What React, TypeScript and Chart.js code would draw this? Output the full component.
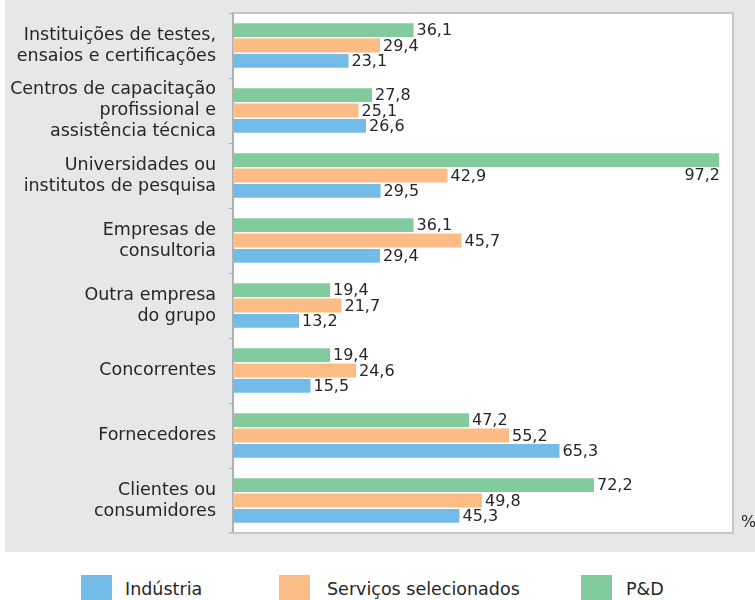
import React, { useEffect, useRef } from "react";
import { Chart, registerables } from "chart.js";

Chart.register(...registerables);

const categories: string[][] = [
  ["Instituições de testes,", "ensaios e certificações"],
  ["Centros de capacitação", "profissional e", "assistência técnica"],
  ["Universidades ou", "institutos de pesquisa"],
  ["Empresas de", "consultoria"],
  ["Outra empresa", "do grupo"],
  ["Concorrentes"],
  ["Fornecedores"],
  ["Clientes ou", "consumidores"],
];
const industria = [23.1, 26.6, 29.5, 29.4, 13.2, 15.5, 65.3, 45.3];
const servicos = [29.4, 25.1, 42.9, 45.7, 21.7, 24.6, 55.2, 49.8];
const pd = [36.1, 27.8, 97.2, 36.1, 19.4, 19.4, 47.2, 72.2];
const seriesNames = ["Indústria", "Serviços selecionados", "P&D"];
const seriesColors = ["#74bce8", "#fbbd85", "#82cb9c"];
const unitLabel = "%";

const FONT = "'DejaVu Sans', sans-serif";
const TEXT = "#262626";

const plotFrame = {
  id: "plotFrame",
  beforeDraw(chart: any) {
    const { ctx, chartArea: a } = chart;
    ctx.save();
    ctx.fillStyle = "#ffffff";
    ctx.fillRect(a.left, a.top, a.right - a.left, a.bottom - a.top);
    ctx.restore();
  },
  afterDraw(chart: any) {
    const { ctx, chartArea: a } = chart;
    ctx.save();
    ctx.strokeStyle = "#c6c6c6";
    ctx.lineWidth = 2;
    ctx.beginPath();
    ctx.moveTo(a.left, a.top);
    ctx.lineTo(a.right, a.top);
    ctx.lineTo(a.right, a.bottom);
    ctx.lineTo(a.left - 4, a.bottom);
    ctx.stroke();
    ctx.restore();
  },
};

const valueLabels = {
  id: "valueLabels",
  afterDatasetsDraw(chart: any) {
    const ctx = chart.ctx;
    ctx.save();
    ctx.font = `16px ${FONT}`;
    ctx.fillStyle = TEXT;
    ctx.textBaseline = "middle";
    chart.data.datasets.forEach((ds: any, di: number) => {
      const meta = chart.getDatasetMeta(di);
      meta.data.forEach((bar: any, i: number) => {
        const v = ds.data[i] as number;
        const txt = v.toFixed(1).replace(".", ",");
        if (bar.x > chart.chartArea.right - 45) {
          ctx.textAlign = "right";
          ctx.fillText(txt, bar.x + 1, bar.y + bar.height + 2);
        } else {
          ctx.textAlign = "left";
          ctx.fillText(txt, bar.x + 3, bar.y + 1);
        }
      });
    });
    ctx.restore();
  },
};

export default function App() {
  const ref = useRef<HTMLCanvasElement | null>(null);
  useEffect(() => {
    if (!ref.current) return;
    const chart = new Chart(ref.current, {
      type: "bar",
      data: {
        labels: categories,
        datasets: [
          { label: seriesNames[2], data: pd, backgroundColor: seriesColors[2] },
          { label: seriesNames[1], data: servicos, backgroundColor: seriesColors[1] },
          { label: seriesNames[0], data: industria, backgroundColor: seriesColors[0] },
        ],
      },
      options: {
        indexAxis: "y",
        responsive: false,
        animation: false,
        layout: { padding: { top: 13, right: 22, bottom: 19, left: 0 } },
        datasets: { bar: { categoryPercentage: 0.71, barPercentage: 0.9 } },
        plugins: { legend: { display: false }, tooltip: { enabled: false } },
        scales: {
          x: { display: false, min: 0, max: 100 },
          y: {
            grid: {
              display: true,
              drawOnChartArea: false,
              drawTicks: true,
              tickLength: 4,
              color: "#b0b0b0",
              offset: true,
            },
            border: { display: true, color: "#b0b0b0", width: 2 },
            ticks: {
              font: { family: FONT, size: 17.5, lineHeight: 1.2 },
              color: TEXT,
              padding: 13,
              autoSkip: false,
            },
            afterFit(scale: any) {
              scale.width = 228;
              scale.paddingTop = 0;
              scale.paddingBottom = 0;
            },
          },
        },
      } as any,
      plugins: [plotFrame, valueLabels],
    });
    return () => chart.destroy();
  }, []);

  const legendItems = [
    { name: seriesNames[0], color: seriesColors[0], sq: 81, tx: 125 },
    { name: seriesNames[1], color: seriesColors[1], sq: 279, tx: 327 },
    { name: seriesNames[2], color: seriesColors[2], sq: 581, tx: 626 },
  ];

  return (
    <div style={{ position: "absolute", left: 0, top: 0, width: 755, height: 600, background: "#fff", overflow: "hidden", fontFamily: FONT }}>
      <div style={{ position: "absolute", left: 5, top: 0, width: 750, height: 552, background: "#e6e7e9" }}>
        <canvas ref={ref} width={750} height={552} style={{ display: "block" }} />
        <div style={{ position: "absolute", left: 736, top: 512, fontSize: 16, color: TEXT }}>{unitLabel}</div>
      </div>
      {legendItems.map((it) => (
        <React.Fragment key={it.name}>
          <div style={{ position: "absolute", left: it.sq, top: 575, width: 31, height: 30, background: it.color }} />
          <div style={{ position: "absolute", left: it.tx, top: 578, fontSize: 17.5, lineHeight: "22px", color: TEXT, whiteSpace: "nowrap" }}>{it.name}</div>
        </React.Fragment>
      ))}
    </div>
  );
}
